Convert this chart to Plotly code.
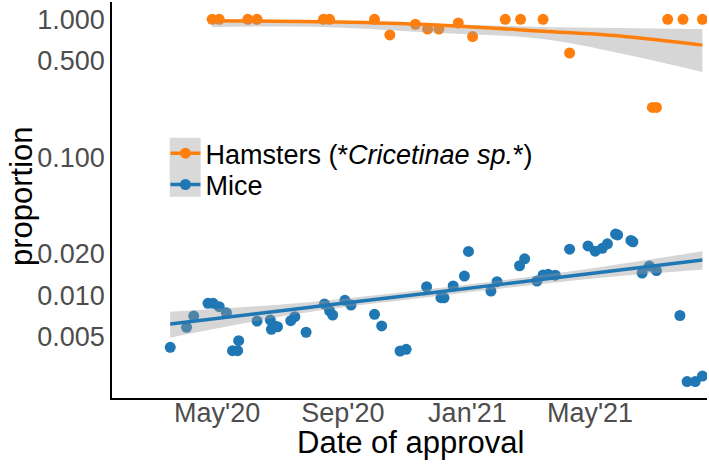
import plotly.graph_objects as go

# hamster points (date of approval, proportion)
hamster_dates = ['2020-04-26', '2020-05-03', '2020-05-31', '2020-06-09', '2020-08-13',
                 '2020-08-19', '2020-10-02', '2020-10-17', '2020-11-11', '2020-11-23',
                 '2020-12-04', '2020-12-23', '2021-01-06', '2021-02-07', '2021-02-22',
                 '2021-03-16', '2021-04-11', '2021-07-01', '2021-07-05', '2021-07-16',
                 '2021-07-31', '2021-08-19']
hamster_prop = [1.0, 1.0, 1.0, 1.0, 1.0, 1.0, 1.0, 0.77, 0.92, 0.85, 0.85, 0.94, 0.75,
                1.0, 1.0, 1.0, 0.57, 0.23, 0.23, 1.0, 1.0, 1.0]

# mouse points
mice_dates = ['2020-03-16', '2020-04-01', '2020-04-08', '2020-04-22', '2020-04-27',
              '2020-05-03', '2020-05-10', '2020-05-16', '2020-05-21', '2020-05-22',
              '2020-06-09', '2020-06-22', '2020-06-23', '2020-06-26', '2020-06-29',
              '2020-07-12', '2020-07-16', '2020-07-27', '2020-08-14', '2020-08-19',
              '2020-08-22', '2020-09-03', '2020-09-09', '2020-10-02', '2020-10-09',
              '2020-10-27', '2020-11-02', '2020-11-22', '2020-12-06', '2020-12-09',
              '2020-12-18', '2020-12-29', '2021-01-02', '2021-01-24', '2021-01-30',
              '2021-02-21', '2021-02-26', '2021-03-10', '2021-03-16', '2021-03-21',
              '2021-03-28', '2021-04-11', '2021-04-29', '2021-05-06', '2021-05-13',
              '2021-05-18', '2021-05-26', '2021-05-28', '2021-06-10', '2021-06-12',
              '2021-06-21', '2021-06-28', '2021-07-05', '2021-07-28', '2021-08-04',
              '2021-08-12', '2021-08-19']
mice_prop = [0.0042, 0.00586, 0.00708, 0.00875, 0.00875, 0.00827, 0.00748, 0.00397,
             0.00397, 0.00469, 0.00651, 0.00662, 0.00567, 0.0060, 0.00592, 0.00655,
             0.0070, 0.0054, 0.00865, 0.00773, 0.0072, 0.0092, 0.0085, 0.00728, 0.0060,
             0.00395, 0.00406, 0.01154, 0.00961, 0.0096, 0.01168, 0.0138, 0.0208,
             0.01074, 0.01255, 0.01638, 0.0184, 0.0127, 0.01403, 0.0142, 0.0140, 0.0216,
             0.0228, 0.0209, 0.0219, 0.0236, 0.0278, 0.0274, 0.0250, 0.0244, 0.0145,
             0.0163, 0.0151, 0.00714, 0.00237, 0.00237, 0.0026]

# fitted trends with confidence band
hamster_fit_dates = ['2020-04-26', '2020-08-13', '2020-11-15', '2021-03-16', '2021-05-30', '2021-08-19']
hamster_fit = [0.977, 0.96, 0.92, 0.82, 0.757, 0.65]
hamster_upper = [0.995, 0.98, 0.935, 0.88, 0.865, 0.85]
hamster_lower = [0.88, 0.88, 0.81, 0.72, 0.567, 0.415]

mice_fit_dates = ['2020-03-16', '2020-07-21', '2020-11-25', '2021-05-10', '2021-08-19']
mice_fit = [0.0062, 0.00804, 0.0104, 0.01466, 0.0180]
mice_upper = [0.0076, 0.0088, 0.0111, 0.0160, 0.0209]
mice_lower = [0.00493, 0.00738, 0.00972, 0.01334, 0.0153]

y_ticks = [0.005, 0.01, 0.02, 0.1, 0.5, 1.0]
y_labels = ['0.005', '0.010', '0.020', '0.100', '0.500', '1.000']
x_ticks = ['2020-05-01', '2020-09-01', '2021-01-01', '2021-05-01']
x_labels = ["May'20", "Sep'20", "Jan'21", "May'21"]

ORANGE = '#FF7F0E'
BLUE = '#1F77B4'
BAND = 'rgba(153,153,153,0.4)'

fig = go.Figure()

series = [
    ('Hamsters (*<i>Cricetinae sp.</i>*)', ORANGE, hamster_dates, hamster_prop,
     hamster_fit_dates, hamster_fit, hamster_upper, hamster_lower, 'legend'),
    ('Mice', BLUE, mice_dates, mice_prop,
     mice_fit_dates, mice_fit, mice_upper, mice_lower, 'legend2'),
]

for name, color, xd, yd, fx, fy, up, lo, _ in series:
    fig.add_trace(go.Scatter(x=xd, y=yd, mode='markers', showlegend=False,
                             marker=dict(color=color, size=11)))
    fig.add_trace(go.Scatter(x=fx, y=up, mode='lines', showlegend=False,
                             line=dict(width=0, shape='spline')))
    fig.add_trace(go.Scatter(x=fx, y=lo, mode='lines', showlegend=False, fill='tonexty',
                             fillcolor=BAND, line=dict(width=0, shape='spline')))
    fig.add_trace(go.Scatter(x=fx, y=fy, mode='lines', showlegend=False,
                             line=dict(color=color, width=3.5, shape='spline')))

# legend entries (line + dot), one legend box per entry to get tight rows
for name, color, *rest in series:
    fig.add_trace(go.Scatter(x=[None], y=[None], mode='lines+markers', name=name,
                             legend=rest[-1],
                             line=dict(color=color, width=3.5),
                             marker=dict(color=color, size=11)))

leg = dict(x=0.0898, xanchor='left', yanchor='middle', bgcolor='rgba(0,0,0,0)',
           font=dict(size=27, color='black'), traceorder='normal')

fig.update_layout(
    width=709, height=468,
    margin=dict(l=112, r=2, t=2, b=70, autoexpand=False),
    plot_bgcolor='white', paper_bgcolor='white',
    font=dict(family='Liberation Sans, Arial, sans-serif', color='black'),
    showlegend=True,
    legend=dict(leg, y=0.617),
    legend2=dict(leg, y=0.538),
    shapes=[dict(type='rect', xref='paper', yref='paper', x0=0.097, x1=0.149,
                 y0=0.508, y1=0.657, fillcolor='#D9D9D9', line=dict(width=0),
                 layer='below')],
    annotations=[
        dict(text='Date of approval', xref='paper', yref='paper', x=0.501, y=-0.1136,
             xanchor='center', yanchor='middle', showarrow=False,
             font=dict(size=31, color='black')),
        dict(text='proportion', xref='paper', yref='paper', x=-0.153, y=0.51,
             xanchor='center', yanchor='middle', textangle=-90, showarrow=False,
             font=dict(size=31, color='black')),
    ],
)

fig.update_xaxes(
    range=['2020-01-19', '2021-08-23 12:00'], automargin=False,
    tickvals=x_ticks, ticktext=x_labels,
    showgrid=False, zeroline=False, showline=True, linecolor='black', linewidth=1.5,
    ticks='', tickfont=dict(size=27, color='#4D4D4D'), ticklabelstandoff=-10,
)
fig.update_yaxes(
    type='log', range=[-2.744, 0.1254], automargin=False,
    tickvals=y_ticks, ticktext=y_labels,
    showgrid=False, zeroline=False, showline=True, linecolor='black', linewidth=1.5,
    ticks='', tickfont=dict(size=27, color='#4D4D4D'),
)

fig.write_html('out.html', config={'displayModeBar': False},
               post_script="document.body.style.margin='0';")
